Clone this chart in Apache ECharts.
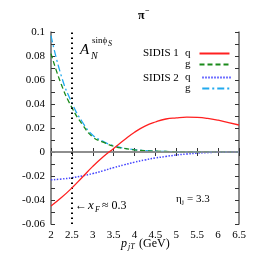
<!DOCTYPE html>
<html><head><meta charset="utf-8">
<script src="https://cdn.jsdelivr.net/npm/echarts@6/dist/echarts.min.js"></script>
<style>html,body{margin:0;padding:0;background:#fff}#c{width:258px;height:257px}</style>
</head><body><div id="c"></div>
<script>
var pT = [2,2.25,2.5,2.75,3,3.25,3.5,3.75,4,4.25,4.5,4.75,5,5.25,5.5,5.75,6,6.25,6.5];
var sidis1_q = [-0.045,-0.038,-0.030,-0.021,-0.012,-0.004,0.003,0.010,0.0165,0.0215,0.025,0.0275,0.0285,0.029,0.0288,0.028,0.0265,0.0245,0.0225];
var sidis1_g = [0.082,0.056,0.037,0.023,0.0125,0.0082,0.0048,0.003,0.0018,0.0011,0.0007,0.0004,0.0002,0.0001,0,0,0,0,0];
var sidis2_q = [-0.0232,-0.0225,-0.0215,-0.0199,-0.018,-0.0156,-0.013,-0.0107,-0.0085,-0.0066,-0.005,-0.0037,-0.0025,-0.0017,-0.001,-0.0005,-0.0002,-0.0001,0];
var sidis2_g = [0.097,0.063,0.041,0.025,0.0140,0.0088,0.0052,0.0032,0.0019,0.0012,0.0007,0.0004,0.0002,0.0001,0,0,0,0,0];
var xTicks = [2,2.5,3,3.5,4,4.5,5,5.5,6,6.5];
var yTicks = [-0.06,-0.04,-0.02,0,0.02,0.04,0.06,0.08,0.1];
var xF_line = 2.5;

function pairs(v){ return pT.map(function(x,i){return [x,v[i]];}); }
var F = 'Liberation Serif';
var chart = echarts.init(document.getElementById('c'));
var axisLine = {show:true, lineStyle:{color:'#666', width:1.5}};
var legendCommon = {orient:'vertical', left:180, itemGap:0, itemWidth:30, itemHeight:10, align:'right',
  itemStyle:{color:'transparent', borderColor:'transparent', borderWidth:0},
  textStyle:{fontFamily:F, fontSize:11, color:'#000', padding:[0,4,0,0]}, selectedMode:false};
chart.setOption({
  animation:false,
  grid:{left:51, right:19, top:32, bottom:33},
  xAxis:[{type:'value', min:2, max:6.5, interval:0.5,
    axisLine:axisLine, axisTick:{inside:true, length:4, lineStyle:{color:'#333'}},
    axisLabel:{fontFamily:F, fontSize:11, color:'#000', margin:6,
      formatter:function(v){return xTicks.indexOf(v)>=0 ? String(v) : '';}},
    splitLine:{show:false}},
   {type:'value', position:'top', min:2, max:6.5, interval:0.5,
    axisLine:axisLine, axisTick:{inside:true, length:4, lineStyle:{color:'#333'}},
    axisLabel:{show:false}, splitLine:{show:false}}],
  yAxis:[{type:'value', min:-0.06, max:0.1, interval:0.02,
    axisLine:axisLine, axisTick:{inside:true, length:4, lineStyle:{color:'#333'}},
    minorTick:{show:true, splitNumber:2, length:4, lineStyle:{color:'#333'}},
    axisLabel:{fontFamily:F, fontSize:11, color:'#000', margin:6,
      formatter:function(v){var r=Math.round(v*100)/100; return yTicks.indexOf(r)>=0 ? String(r) : '';}},
    splitLine:{show:false}},
   {type:'value', position:'right', min:-0.06, max:0.1, interval:0.02,
    axisLine:axisLine, axisTick:{inside:true, length:4, lineStyle:{color:'#333'}},
    minorTick:{show:true, splitNumber:2, length:4, lineStyle:{color:'#333'}},
    axisLabel:{show:false}, splitLine:{show:false}}],
  legend:[Object.assign({data:['q','g'], top:43}, legendCommon),
          Object.assign({data:['q ','g '], top:67}, legendCommon)],
  series:[
    {name:'q', type:'line', data:pairs(sidis1_q), smooth:true, symbol:'none', z:5,
     lineStyle:{color:'#ff2020', width:1.3}, itemStyle:{color:'#ff2020'},
     markLine:{silent:true, symbol:'none', label:{show:false}, animation:false,
       data:[{yAxis:0, lineStyle:{color:'#999', width:1.5, type:'solid'}},
             {xAxis:xF_line, lineStyle:{color:'#000', width:2, type:[1.5,3.5]}}]}},
    {name:'g', type:'line', data:pairs(sidis1_g), smooth:true, symbol:'none', z:4,
     lineStyle:{color:'#1a8a1a', width:1.3, type:[5,3]}, itemStyle:{color:'#1a8a1a'}},
    {name:'q ', type:'line', data:pairs(sidis2_q), smooth:true, symbol:'none', z:4,
     lineStyle:{color:'#4444ff', width:1.5, type:[1.5,1.5]}, itemStyle:{color:'#4444ff'}},
    {name:'g ', type:'line', data:pairs(sidis2_g), smooth:true, symbol:'none', z:3,
     lineStyle:{color:'#22aaee', width:1.3, type:[7,3,2,3]}, itemStyle:{color:'#22aaee'}}
  ],
  graphic:[
    {type:'text', left:138, top:10, style:{text:'π', font:'bold 12px '+F, fill:'#000'}},
    {type:'text', left:145, top:7, style:{text:'−', font:'bold 8px '+F, fill:'#000'}},
    {type:'text', left:80, top:43, style:{text:'A', font:'italic 15px '+F, fill:'#000'}},
    {type:'text', left:91, top:51, style:{text:'N', font:'italic 10px '+F, fill:'#000'}},
    {type:'text', left:92, top:36, style:{text:'sinϕ', font:'9px '+F, fill:'#000'}},
    {type:'text', left:108, top:40, style:{text:'S', font:'italic 8px '+F, fill:'#000'}},
    {type:'text', left:143, top:48, style:{text:'SIDIS 1', font:'11px '+F, fill:'#000'}},
    {type:'text', left:143, top:73, style:{text:'SIDIS 2', font:'11px '+F, fill:'#000'}},
    {type:'text', left:75, top:200, style:{text:'← ', font:'12px '+F, fill:'#000'}},
    {type:'text', left:88, top:199, style:{text:'x', font:'italic 13px '+F, fill:'#000'}},
    {type:'text', left:95, top:206, style:{text:'F', font:'italic 8px '+F, fill:'#000'}},
    {type:'text', left:102, top:200, style:{text:'≈ 0.3', font:'12px '+F, fill:'#000'}},
    {type:'text', left:176, top:194, style:{text:'η', font:'11px '+F, fill:'#000'}},
    {type:'text', left:182, top:199, style:{text:'j', font:'7px '+F, fill:'#000'}},
    {type:'text', left:187, top:194, style:{text:'= 3.3', font:'11px '+F, fill:'#000'}},
    {type:'text', left:121, top:238, style:{text:'p', font:'italic 12px '+F, fill:'#000'}},
    {type:'text', left:128, top:243, style:{text:'jT', font:'italic 8px '+F, fill:'#000'}},
    {type:'text', left:139, top:238, style:{text:'(GeV)', font:'12px '+F, fill:'#000'}}
  ]
});
</script></body></html>
